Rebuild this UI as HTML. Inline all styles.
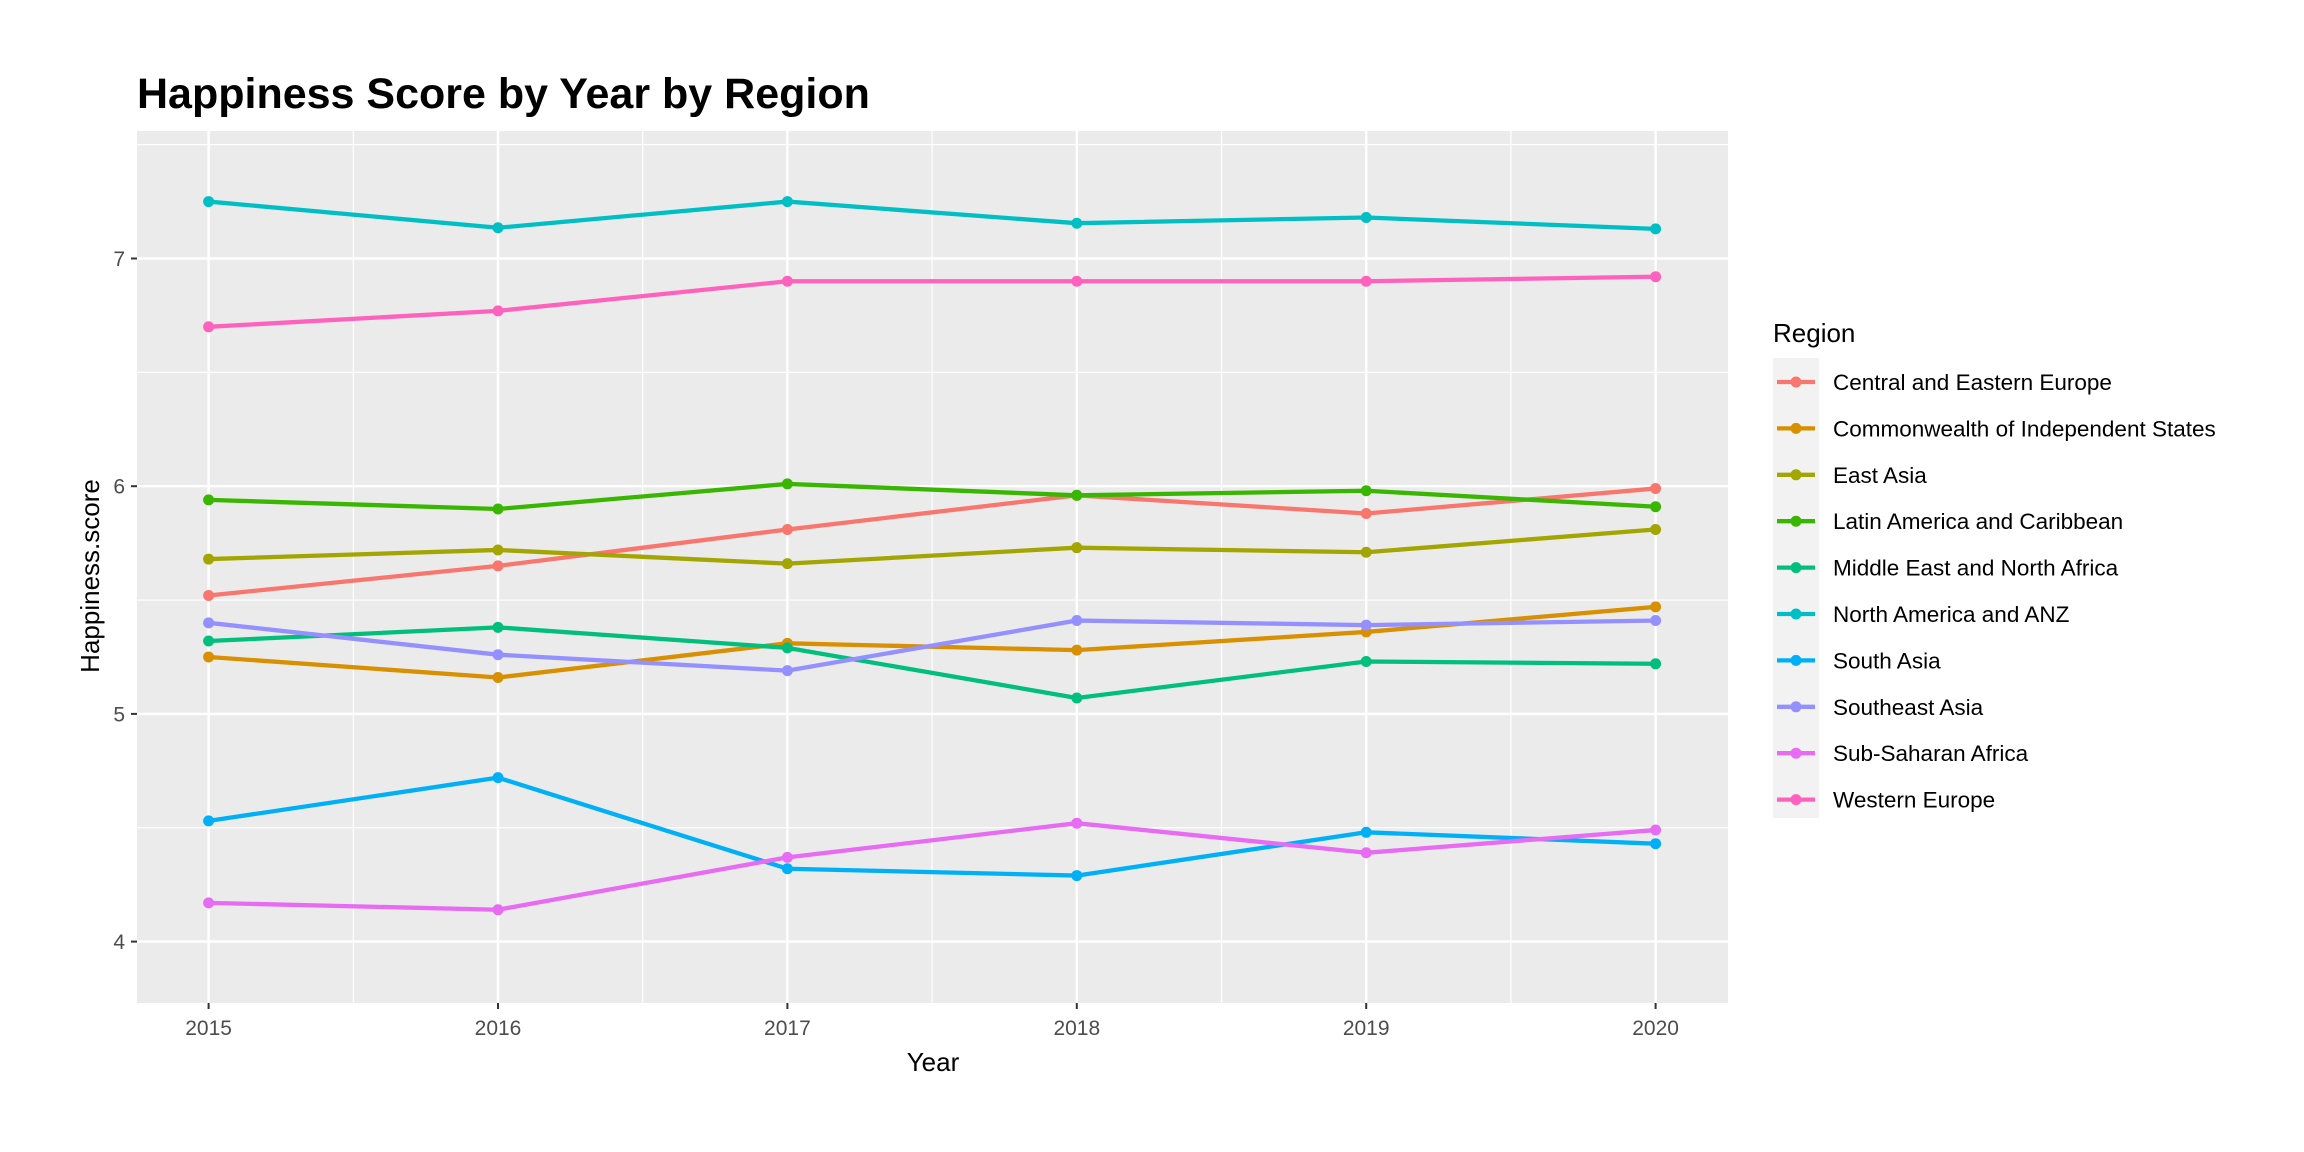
<!DOCTYPE html>
<html><head><meta charset="utf-8"><style>
body{margin:0;background:#fff;}
svg{display:block;font-family:"Liberation Sans",Arial,sans-serif;}
</style></head><body>
<svg id="chart" width="2304" height="1152" xmlns="http://www.w3.org/2000/svg">
<rect width="2304" height="1152" fill="#fff"/>
<text x="137" y="108" font-size="43" font-weight="bold" fill="#000">Happiness Score by Year by Region</text>
<rect x="137" y="131" width="1591" height="872" fill="#ebebeb"/>
<g id="grid"></g>
<g id="axes"></g>
<g id="series"></g>
<text x="933" y="1071" font-size="26" text-anchor="middle" fill="#000">Year</text>
<text transform="translate(99,576) rotate(-90)" font-size="26" text-anchor="middle" fill="#000">Happiness.score</text>
<text x="1773" y="342" font-size="26" fill="#000">Region</text>
<rect x="1773" y="358" width="46" height="460" fill="#f2f2f2"/>
<g id="legend"></g>
</svg>
<script>
const years=[2015,2016,2017,2018,2019,2020];
const regions=["Central and Eastern Europe","Commonwealth of Independent States","East Asia","Latin America and Caribbean","Middle East and North Africa","North America and ANZ","South Asia","Southeast Asia","Sub-Saharan Africa","Western Europe"];
const colors=["#F8766D","#D89000","#A3A500","#39B600","#00BF7D","#00BFC4","#00B0F6","#9590FF","#E76BF3","#FF62BC"];
const cee=[5.52,5.65,5.81,5.96,5.88,5.99];
const cis=[5.25,5.16,5.31,5.28,5.36,5.47];
const eastAsia=[5.68,5.72,5.66,5.73,5.71,5.81];
const latam=[5.94,5.90,6.01,5.96,5.98,5.91];
const mena=[5.32,5.38,5.29,5.07,5.23,5.22];
const nam=[7.25,7.135,7.25,7.155,7.18,7.13];
const southAsia=[4.53,4.72,4.32,4.29,4.48,4.43];
const seAsia=[5.40,5.26,5.19,5.41,5.39,5.41];
const ssa=[4.17,4.14,4.37,4.52,4.39,4.49];
const westEu=[6.70,6.77,6.90,6.90,6.90,6.92];
const seriesValues=[cee,cis,eastAsia,latam,mena,nam,southAsia,seAsia,ssa,westEu];
const yTicks=[4,5,6,7];

const NS="http://www.w3.org/2000/svg";
const xs=y=>208.6+(y-2015)*289.4;
const ys=v=>941.6-(v-4)*227.7;
function mk(tag,attrs,parent){const e=document.createElementNS(NS,tag);for(const k in attrs)e.setAttribute(k,attrs[k]);parent.appendChild(e);return e;}
const grid=document.getElementById('grid'),axes=document.getElementById('axes'),ser=document.getElementById('series'),leg=document.getElementById('legend');
const PL=137,PR=1728;
for(let i=0;i<years.length-1;i++){const xm=(xs(years[i])+xs(years[i+1]))/2;const l=mk('line',{x1:xm,x2:xm,y1:131,y2:1003,stroke:'#fff','stroke-width':1.2},grid);

}
const minorY=[3.5,4.5,5.5,6.5,7.5];
minorY.forEach(v=>{const ym=ys(v);if(ym>131&&ym<1003){const l=mk('line',{x1:PL,x2:PR,y1:ym,y2:ym,stroke:'#fff','stroke-width':1.2},grid);

}});
years.forEach(y=>{const l=mk('line',{x1:xs(y),x2:xs(y),y1:131,y2:1003,stroke:'#fff','stroke-width':2.4},grid);


const t=mk('line',{x1:xs(y),x2:xs(y),y1:1003,y2:1009,stroke:'#333','stroke-width':2},axes);


const tx=mk('text',{x:xs(y),y:1035,'font-size':21,'text-anchor':'middle',fill:'#4d4d4d'},axes);tx.textContent=y;

});
yTicks.forEach(v=>{const l=mk('line',{x1:PL,x2:PR,y1:ys(v),y2:ys(v),stroke:'#fff','stroke-width':2.4},grid);


const t=mk('line',{x1:131,x2:PL,y1:ys(v),y2:ys(v),stroke:'#333','stroke-width':2},axes);


const tx=mk('text',{x:125,y:ys(v)+7.5,'font-size':21,'text-anchor':'end',fill:'#4d4d4d'},axes);tx.textContent=v;

});
seriesValues.forEach((vals,i)=>{const g=mk('g',{},ser);


const pl=mk('polyline',{points:vals.map((v,j)=>xs(years[j])+','+ys(v)).join(' '),fill:'none',stroke:colors[i],'stroke-width':4.3,'stroke-linejoin':'round'},g);


vals.forEach((v,j)=>{const c=mk('circle',{cx:xs(years[j]),cy:ys(v),r:5.5,fill:colors[i]},g);

});
const ly=382+i*46.4;
const lg=mk('g',{},leg);


mk('line',{x1:1777,x2:1815,y1:ly,y2:ly,stroke:colors[i],'stroke-width':4.3},lg);
mk('circle',{cx:1796,cy:ly,r:5.5,fill:colors[i]},lg);
const lt=mk('text',{x:1833,y:ly+8,'font-size':22.5,fill:'#000'},lg);lt.textContent=regions[i];

});
</script>
</body></html>
